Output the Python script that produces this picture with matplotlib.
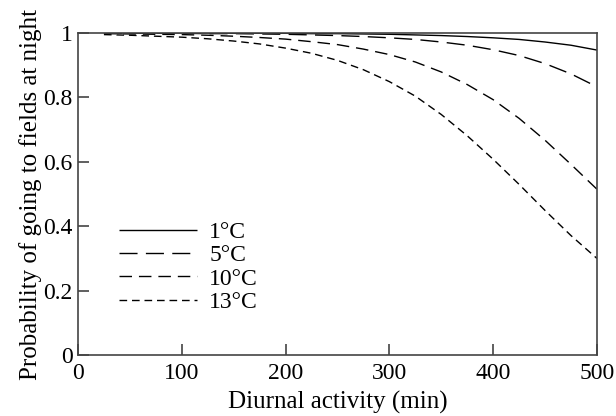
import matplotlib
matplotlib.use("Agg")
import matplotlib.pyplot as plt

###############################################################################
# Data
###############################################################################

diurnal_min = [25, 50, 75, 100, 125, 150, 175, 200, 225, 250,
               275, 300, 325, 350, 375, 400, 425, 450, 475, 500]

p_1c = [1.000, 1.000, 1.000, 1.000, 1.000, 0.999, 0.999, 0.999, 0.998, 0.998,
        0.997, 0.996, 0.994, 0.992, 0.989, 0.985, 0.980, 0.972, 0.962, 0.947]

p_5c = [1.000, 0.999, 0.999, 0.999, 0.998, 0.998, 0.997, 0.996, 0.994, 0.992,
        0.989, 0.985, 0.980, 0.972, 0.962, 0.948, 0.930, 0.905, 0.873, 0.833]

p_10c = [0.998, 0.997, 0.996, 0.995, 0.993, 0.990, 0.986, 0.981, 0.973, 0.964,
         0.950, 0.933, 0.910, 0.879, 0.840, 0.793, 0.735, 0.667, 0.592, 0.515]

p_13c = [0.995, 0.993, 0.990, 0.987, 0.982, 0.975, 0.966, 0.953, 0.937, 0.915,
         0.886, 0.849, 0.804, 0.747, 0.681, 0.608, 0.530, 0.449, 0.371, 0.300]

series_labels = ["1\u00b0C", "5\u00b0C", "10\u00b0C", "13\u00b0C"]

x_ticks = [0, 100, 200, 300, 400, 500]
y_ticks = [0, 0.2, 0.4, 0.6, 0.8, 1]
y_tick_labels = ["0", "0.2", "0.4", "0.6", "0.8", "1"]

###############################################################################
# Figure
###############################################################################

plt.rcParams["font.family"] = ["Liberation Serif", "DejaVu Serif"]
plt.rcParams["font.size"] = 17

fig = plt.figure(figsize=(6.16, 4.16), dpi=100)
ax = fig.add_axes([0.1266, 0.1466, 0.8424, 0.7741])

styles = [
    (0, ()),
    (0, (13, 6)),
    (0, (9, 5)),
    (0, (5.5, 3.5)),
]

for values, label, ls in zip([p_1c, p_5c, p_10c, p_13c], series_labels, styles):
    ax.plot(diurnal_min, values, color="black", linewidth=1.0,
            linestyle=ls, label=label)

ax.set_xlim(0, 500)
ax.set_ylim(0, 1)

ax.set_xticks(x_ticks)
ax.set_yticks(y_ticks)
ax.set_yticklabels(y_tick_labels)

ax.tick_params(direction="in", length=8, width=1.2, color="#444444",
               labelsize=17)
ax.tick_params(axis="x", pad=6)
ax.tick_params(axis="y", pad=4)

for spine in ax.spines.values():
    spine.set_color("#444444")
    spine.set_linewidth(1.2)

ax.set_xlabel("Diurnal activity (min)", fontsize=18, labelpad=5)
ax.set_ylabel("Probability of going to fields at night", fontsize=18,
              labelpad=1)

ax.legend(loc="upper left", bbox_to_anchor=(0.08, 0.415), frameon=False,
          handlelength=3.3, handletextpad=0.5, labelspacing=0.08,
          borderpad=0, borderaxespad=0, fontsize=17)

fig.savefig("out.png", dpi=100)
